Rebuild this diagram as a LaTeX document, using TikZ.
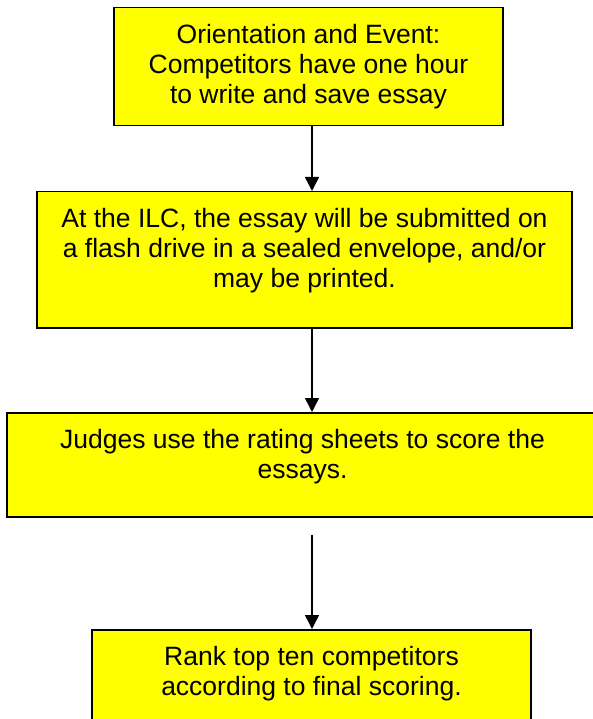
\documentclass[tikz,border=0pt]{standalone}
\usepackage{fontspec}
\setmainfont{Liberation Sans}
\usetikzlibrary{arrows.meta, positioning, calc}
\definecolor{boxyellow}{RGB}{255,255,0}
\tikzset{
  stepbox/.style={
    rectangle, draw=black, line width=1.5pt, fill=boxyellow,
    anchor=north, align=center, inner xsep=0pt, inner ysep=0pt,
    font=\fontsize{26.5}{30}\selectfont
  },
  arrow/.style={-{Triangle[length=14pt,width=14pt]}, line width=1.5pt}
}

\begin{document}
\begin{tikzpicture}[x=1pt,y=-1pt]
    \useasboundingbox (0,0) rectangle (592,719);
    % Essay event flow
    \node[stepbox, minimum width=389pt, text height=96pt, text depth=22pt] (orient) at (308.5,7)
      {Orientation and Event:\\Competitors have one hour\\to write and save essay};
    \node[stepbox, minimum width=535pt, text height=96pt, text depth=40pt] (submit) at (304.5,191)
      {At the ILC, the essay will be submitted on\\a flash drive in a sealed envelope, and/or\\may be printed.};
    \node[stepbox, minimum width=591pt, text height=66pt, text depth=38pt] (judge) at (302.5,412)
      {Judges use the rating sheets to score the\\essays.};
    \node[stepbox, minimum width=439pt, text height=66pt, text depth=90pt] (rank) at (311.5,629)
      {Rank top ten competitors\\according to final scoring.};

    \coordinate (axis) at (312,0);
    \coordinate (gap) at ($(judge.south -| axis)+(0,17)$);
    \draw[arrow] (orient.south -| axis) -- (submit.north -| axis);
    \draw[arrow] (submit.south -| axis) -- (judge.north -| axis);
    \draw[arrow] (gap) -- (rank.north -| axis);
\end{tikzpicture}
\end{document}
